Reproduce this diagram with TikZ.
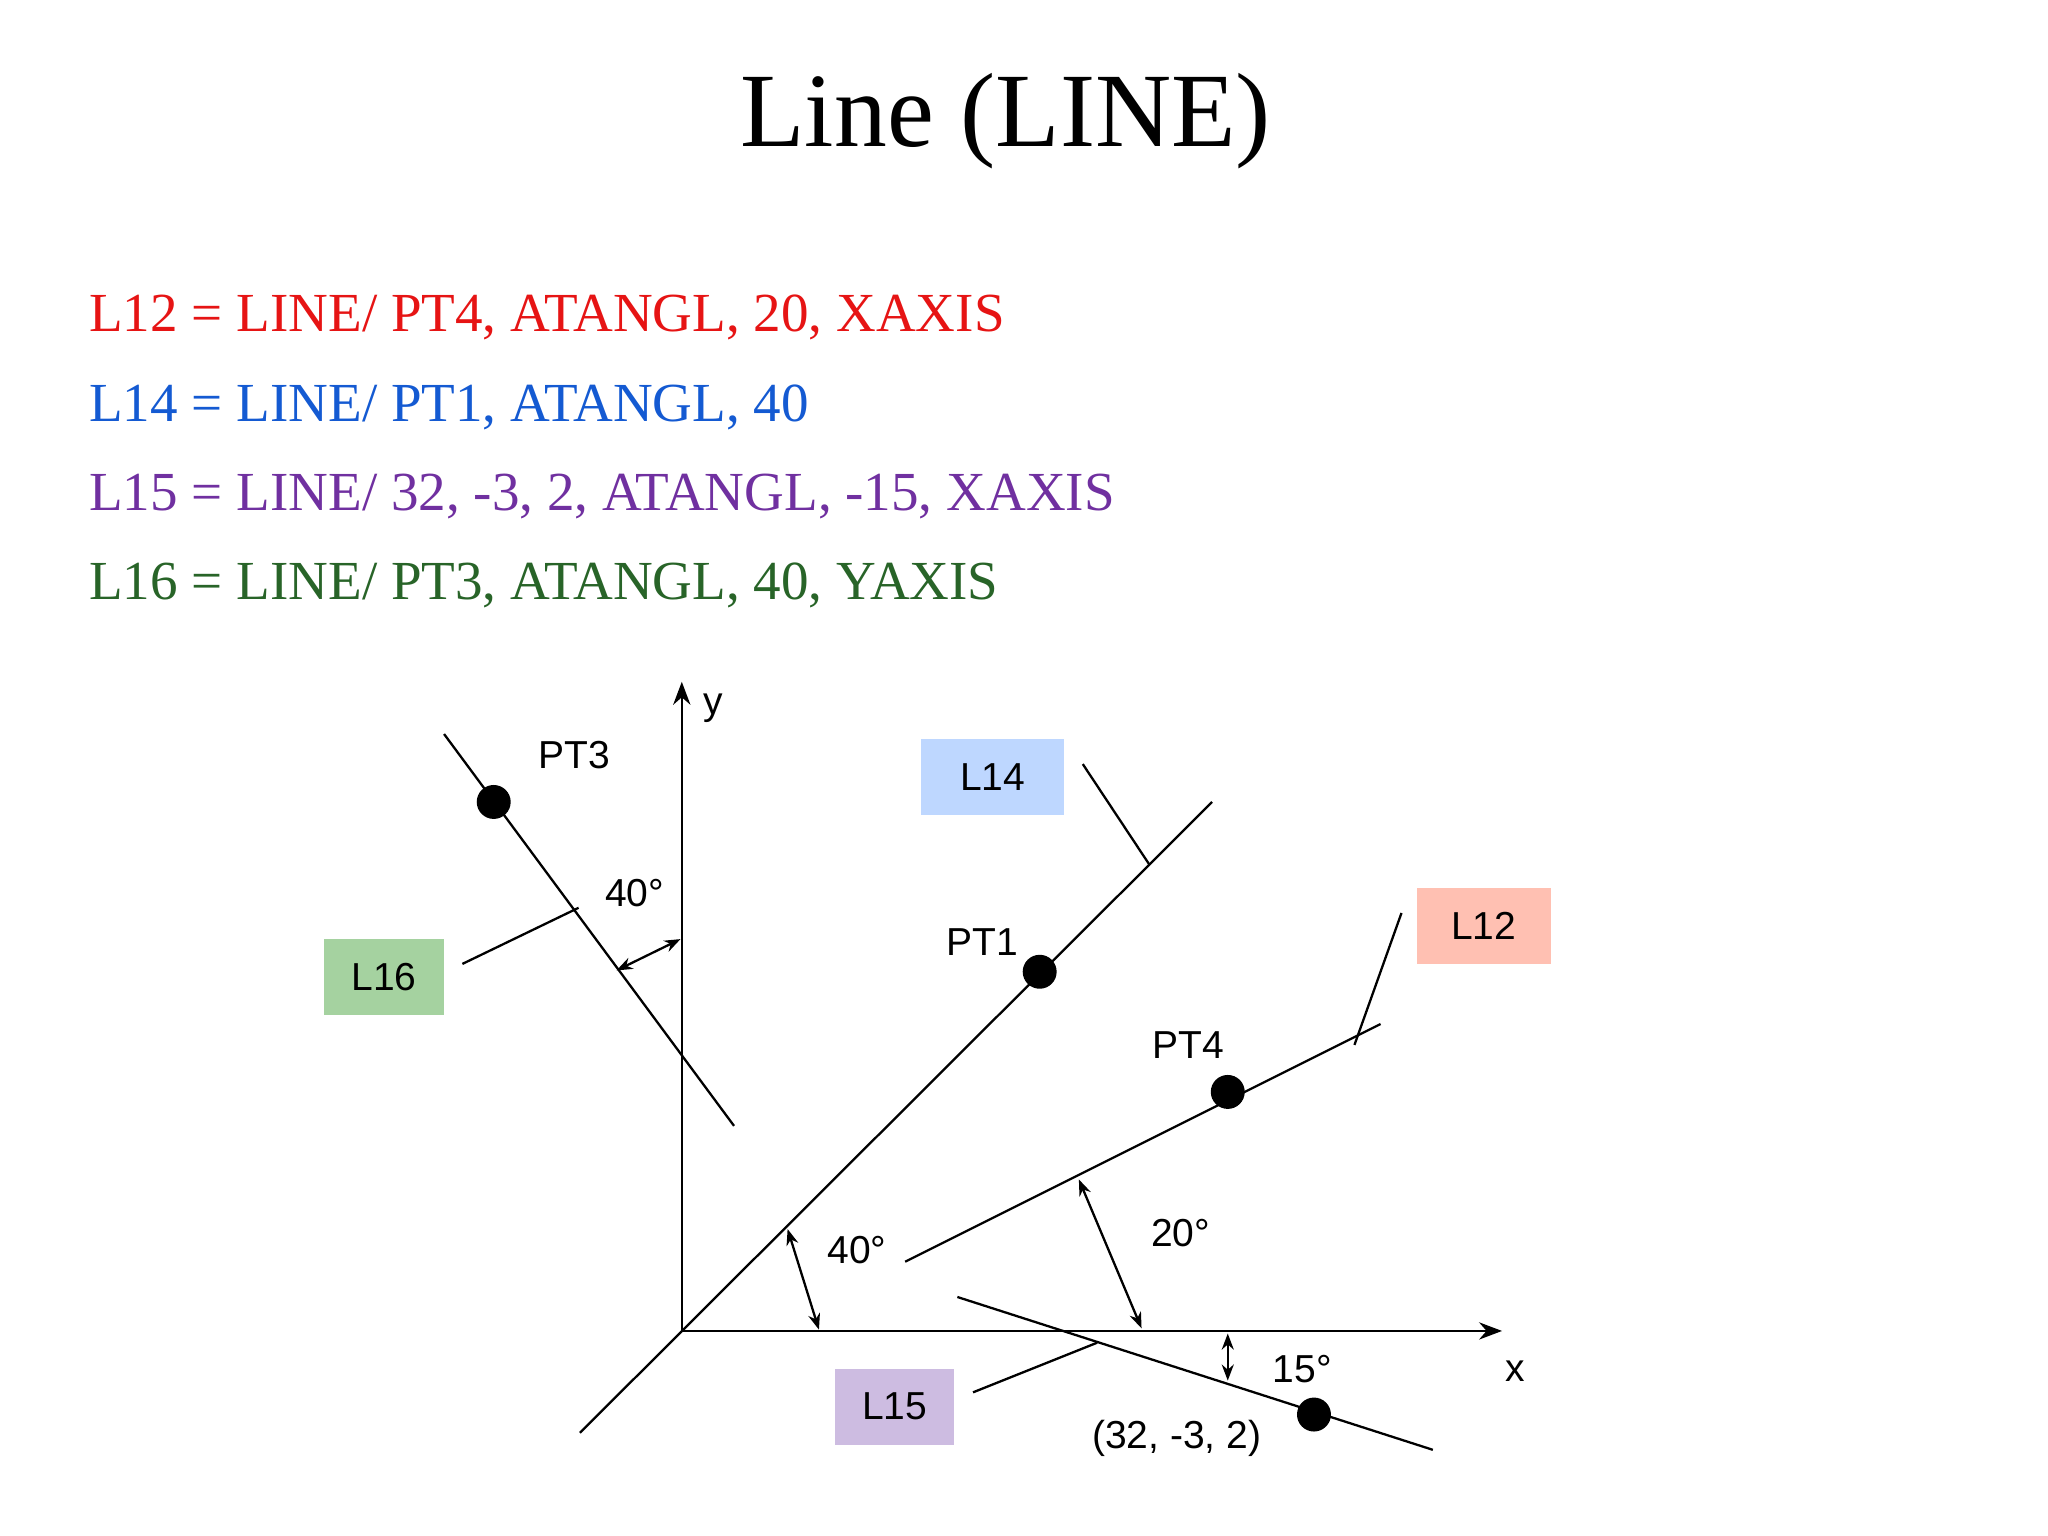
\documentclass[tikz,border=0pt]{standalone}
\usepackage{fontspec}
\setmainfont{Liberation Serif}
\newfontfamily\sans{Liberation Sans}
\usetikzlibrary{arrows.meta}
\definecolor{cred}{RGB}{230,20,20}
\definecolor{cblue}{RGB}{20,90,210}
\definecolor{cpurple}{RGB}{112,48,160}
\definecolor{cgreen}{RGB}{40,100,40}
\definecolor{bblue}{RGB}{190,215,255}
\definecolor{bsalmon}{RGB}{255,192,178}
\definecolor{blav}{RGB}{205,188,225}
\definecolor{bgreen}{RGB}{165,210,160}
\begin{document}
\begin{tikzpicture}[x=0.02cm,y=-0.02cm,
 code/.style={anchor=west,font=\fontsize{24}{28}\selectfont,inner sep=0},
 lbl/.style={font=\sans\fontsize{17}{20}\selectfont,inner sep=0},
 tag/.style={font=\sans\fontsize{17}{20}\selectfont,minimum width=#1*0.02cm,minimum height=58*0.02cm,inner sep=0},
 dot/.style={circle,fill=black,minimum size=26*0.02cm,inner sep=0},
 ln/.style={line width=1pt},
 dar/.style={line width=1pt,{Stealth[length=7pt]}-{Stealth[length=7pt]}}]
\useasboundingbox (0,0) rectangle (1568,1176);
\node[font=\fontsize{46}{52}\selectfont] (title) at (770,93) {Line (LINE)};
\node[code,text=cred] (c1) at (68,243) {L12 = LINE/ PT4, ATANGL, 20, XAXIS};
\node[code,text=cblue] (c2) at (68,312) {L14 = LINE/ PT1, ATANGL, 40};
\node[code,text=cpurple] (c3) at (68,380) {L15 = LINE/ 32, -3, 2, ATANGL, -15, XAXIS};
\node[code,text=cgreen] (c4) at (68,448) {L16 = LINE/ PT3, ATANGL, 40, YAXIS};
% axes
\coordinate (O) at (522,1019);
\coordinate (Y) at (522,522);
\coordinate (X) at (1150,1019);
\draw[ln,-{Stealth[length=10pt]}] (O) -- (Y);
\draw[ln,-{Stealth[length=10pt]}] (O) -- (X);
\node[lbl] (ylab) at (546,542) {y};
\node[lbl] (xlab) at (1160,1050) {x};
% L14
\coordinate (a1) at (444,1097); \coordinate (a2) at (928,614);
\draw[ln] (a1) -- (a2);
\node[dot] (pt1) at (796,744) {};
\node[lbl] (pt1l) at (752,721) {PT1};
\node[tag=109,fill=bblue] (l14) at (760,595) {L14};
\coordinate (k1) at (829,585); \coordinate (k2) at (880,662);
\draw[ln] (k1) -- (k2);
% L12
\coordinate (b1) at (693,966); \coordinate (b2) at (1057,784);
\draw[ln] (b1) -- (b2);
\node[dot] (pt4) at (940,836) {};
\node[lbl] (pt4l) at (910,800) {PT4};
\node[tag=103,fill=bsalmon] (l12) at (1136,709) {L12};
\coordinate (k3) at (1073,699); \coordinate (k4) at (1037,800);
\draw[ln] (k3) -- (k4);
% L15
\coordinate (c1a) at (733,993); \coordinate (c2a) at (1097,1110);
\draw[ln] (c1a) -- (c2a);
\node[dot] (p32) at (1006,1083) {};
\node[lbl] (p32l) at (901,1101) {(32, -3, 2)};
\node[tag=91,fill=blav] (l15) at (685,1077) {L15};
\coordinate (k5) at (745,1066); \coordinate (k6) at (840,1028);
\draw[ln] (k5) -- (k6);
% L16
\coordinate (d1) at (340,562); \coordinate (d2) at (562,862);
\draw[ln] (d1) -- (d2);
\node[dot] (pt3) at (378,614) {};
\node[lbl] (pt3l) at (440,578) {PT3};
\node[tag=92,fill=bgreen] (l16) at (294,748) {L16};
\coordinate (k7) at (354,738); \coordinate (k8) at (443,695);
\draw[ln] (k7) -- (k8);
% angles
\coordinate (e1) at (472,743); \coordinate (e2) at (521,719);
\draw[dar] (e1) -- (e2);
\node[lbl] (g1) at (486,684) {40°};
\coordinate (f1) at (603,941); \coordinate (f2) at (627,1018);
\draw[dar] (f1) -- (f2);
\node[lbl] (g2) at (656,957) {40°};
\coordinate (h1) at (826,903); \coordinate (h2) at (874,1017);
\draw[dar] (h1) -- (h2);
\node[lbl] (g3) at (904,944) {20°};
\coordinate (i1) at (940,1021); \coordinate (i2) at (940,1057);
\draw[dar] (i1) -- (i2);
\node[lbl] (g4) at (997,1048) {15°};
\end{tikzpicture}
\end{document}
